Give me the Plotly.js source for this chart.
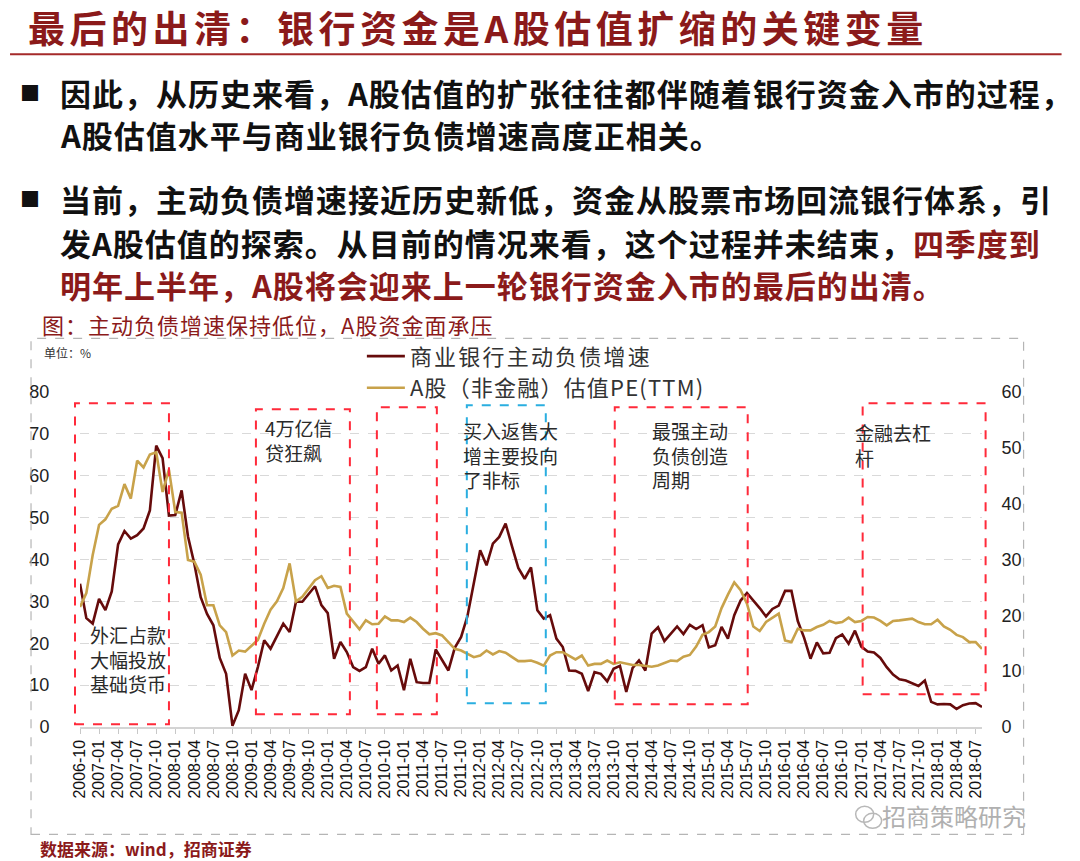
<!DOCTYPE html>
<html>
<head>
<meta charset="utf-8">
<script src="https://cdn.plot.ly/plotly-3.0.1.min.js"></script>
<style>html,body{margin:0;padding:0;background:#fff;}#chart{width:1080px;height:861px;}</style>
</head>
<body>
<div id="chart"></div>
<script>
// ---- DATA ----
const startYear = 2006, startMonth = 10, monthCount = 143;
const months = [];
for (let i = 0; i < monthCount; i++) {
  const k = startMonth - 1 + i;
  months.push((startYear + Math.floor(k / 12)) + '-' + String(k % 12 + 1).padStart(2, '0'));
}
const tickLabels = months.filter((_, i) => i % 3 === 0);

const seriesNames = ['商业银行主动负债增速', 'A股（非金融）估值PE(TTM)'];

// 商业银行主动负债增速 (%), left axis
const liabGrowth = [34.2,26,24.7,30.6,27.9,32.4,43.6,46.8,45,45.8,
  47.4,51.7,67.2,64.2,50.5,50.6,56.5,45.5,39,31,
  27,24.3,16.5,12.7,0.3,4,12.7,8.8,14.3,20.7,
  18.7,21.9,24.7,22.7,29.9,29.9,31.8,33.6,29.1,27.2,
  16.3,20.3,17.9,14.3,13.4,14.3,18.7,15.1,17.1,13.5,
  14.7,8.8,16.3,10.7,10.5,10.5,18.5,15.9,13.5,18.9,
  21.5,26.5,34.2,42.2,38.6,43.8,45.4,48.6,43.2,38,
  35.4,38.1,27.9,25.9,26.7,21.1,19.1,13.5,13.4,12.7,
  8.6,13.1,12.7,10.9,13.9,14.6,8.4,14.1,15.9,13.5,
  22.3,23.8,20.5,22.3,24,22.2,24.4,23.4,24.3,19,
  19.5,23.9,21.1,26.7,30.2,32,30.3,28.4,26.4,28.2,
  29,32.5,32.5,25.3,21.3,16.3,20.2,17.6,17.7,21.2,
  22.1,19.9,23,19.2,18,17.8,16.5,14.3,12.5,11.4,
  11.1,10.5,9.8,11.1,6,5.4,5.5,5.4,4.3,5.2,
  5.6,5.7,4.8];

// A股（非金融）估值PE(TTM), right axis
const peTTM = [21.5,24,30.8,36.2,37.2,39.1,39.6,43.5,40.9,47.7,
  46.5,48.8,49.2,42.1,46.1,38.5,38.4,29.9,29.6,27.3,
  21.8,21.8,18.2,17,12.8,13.7,13.5,14.6,15.6,18.5,
  21,22.5,24.9,29.3,22.5,23.3,24.8,26.3,27,24.9,
  25.3,25.1,20.3,19,17.5,19.1,18.4,18.5,19.8,19.1,
  19.1,18.8,19.6,18.8,17.6,16.6,16.8,16.4,15.1,14,
  13.7,13.1,12.5,12.8,13.7,13,13.6,13.3,12.6,11.8,
  11.8,11.9,11.5,11,12.8,13.4,13.4,12.7,12.1,12.8,
  11,11.3,11.3,11.9,11.3,11.6,11.3,11.1,11.1,11,
  10.8,11,11.4,11.9,11.8,12.6,12.9,14.4,16.5,17,
  18,21.3,23.7,25.9,24.5,22.1,18,17.2,18.8,19.5,
  20.3,15.5,15.2,17.6,17.3,17.3,17.9,18.3,19,18.6,
  18.8,19.6,18.8,19,19.7,19.6,19,18.2,19,19.1,
  19.2,19.4,18.8,18.4,18.4,19.2,18,17.4,16.5,16.1,
  15.2,15.2,14];

const leftTicks = [0,10,20,30,40,50,60,70,80];
const rightTicks = [0,10,20,30,40,50,60];

// ---- LAYOUT HELPERS ----
const W = 1080, H = 861;
const M = {l: 80, r: 97.6, t: 391.7, b: 134.3};
const PW = W - M.l - M.r, PH = H - M.t - M.b;
const px = x => (x - M.l) / PW;
const py = y => (H - M.b - y) / PH;

const CJK = '"Noto Sans CJK SC", "Liberation Sans", sans-serif';
const LAT = '"Liberation Sans", Arial, sans-serif';
const DARKRED = '#8b1a1a';
const sp = (t, ls) => '<span style="letter-spacing:' + ls + 'px">' + t + '</span>';

const ann = [];
function txt(x, y, text, size, color, extra) {
  ann.push(Object.assign({xref: 'paper', yref: 'paper', x: px(x), y: py(y), text: text,
    showarrow: false, xanchor: 'left', yanchor: 'middle', align: 'left',
    font: {family: CJK, size: size, color: color}}, extra || {}));
}
// slide title & text
txt(26, 27, '<b>' + sp('最后的出清：银行资金是A股估值扩缩的关键变量', 4.5) + '</b>', 37, DARKRED);
txt(18, 92, '■', 20, '#111');
txt(58, 92, '<b>' + sp('因此，从历史来看，A股估值的扩张往往都伴随着银行资金入市的过程，', 1) + '</b>', 31, '#111');
txt(58, 134, '<b>' + sp('A股估值水平与商业银行负债增速高度正相关。', 1) + '</b>', 31, '#111');
txt(18, 198, '■', 20, '#111');
txt(58, 198, '<b>' + sp('当前，主动负债增速接近历史新低，资金从股票市场回流银行体系，引', 1) + '</b>', 31, '#111');
txt(58, 242, '<b>' + sp('发A股估值的探索。从目前的情况来看，这个过程并未结束，', 1) +
  '<span style="color:' + DARKRED + ';letter-spacing:1px">四季度到</span></b>', 31, '#111');
txt(58, 284, '<b>' + sp('明年上半年，A股将会迎来上一轮银行资金入市的最后的出清。', 1) + '</b>', 31, DARKRED);
txt(40, 324, sp('图：主动负债增速保持低位，A股资金面承压', 1), 22, DARKRED);
txt(42, 352, '单位：%', 12, '#333');
txt(38, 848, '<b>数据来源：wind，招商证券</b>', 17, DARKRED);
txt(880, 815, '招商策略研究', 24, '#b0b0b0');

// box annotations (multi-line)
const noteColor = '#2a2a2a';
const notes = [
  [88, 659, ['外汇占款', '大幅投放', '基础货币']],
  [263, 440, ['4万亿信', '贷狂飙']],
  [461, 455, ['买入返售大', '增主要投向', '了非标']],
  [650, 455, ['最强主动', '负债创造', '周期']],
  [853, 445, ['金融去杠', '杆']]
];
notes.forEach(n => txt(n[0], n[1], n[2].join('<br>'), 19, noteColor));

// shapes
const shapes = [];
function rect(x0, y0, x1, y1, color, width, dash) {
  shapes.push({type: 'rect', xref: 'paper', yref: 'paper', x0: px(x0), x1: px(x1), y0: py(y1), y1: py(y0),
    line: {color: color, width: width, dash: dash}, fillcolor: 'rgba(0,0,0,0)'});
}
shapes.push({type: 'line', xref: 'paper', yref: 'paper', x0: px(10), x1: px(1062), y0: py(54), y1: py(54),
  line: {color: '#a52a2a', width: 2}});
rect(31, 338, 1024, 834, '#b5b5b5', 1.2, 'dash');
const RED = '#ff2a3a';
rect(75, 403, 169, 724, RED, 2, 'dash');
rect(256, 409, 350, 714, RED, 2, 'dash');
rect(377, 407, 437, 714, RED, 2, 'dash');
rect(467, 405, 546, 703, '#2aaee0', 2, 'dash');
rect(615, 407, 748, 704, RED, 2, 'dash');
rect(863, 403, 986, 694, RED, 2, 'dash');
// wechat-like icon
shapes.push({type: 'circle', xref: 'paper', yref: 'paper', x0: px(856), x1: px(874), y0: py(822), y1: py(806), line: {color: '#b8b8b8', width: 1.5}});
shapes.push({type: 'circle', xref: 'paper', yref: 'paper', x0: px(864), x1: px(882), y0: py(828), y1: py(813), line: {color: '#b8b8b8', width: 1.5}});

const traces = [
  {x: months, y: liabGrowth, name: sp(seriesNames[0], 2.2), type: 'scatter', mode: 'lines', yaxis: 'y',
   line: {color: '#660b0b', width: 2.6}, legendgroup: 'a'},
  {x: months, y: peTTM, name: sp(seriesNames[1], 1.2), type: 'scatter', mode: 'lines', yaxis: 'y2',
   line: {color: '#c8a24a', width: 2.6}, legendgroup: 'b'}
];

const layout = {
  width: W, height: H, margin: M, paper_bgcolor: '#fff', plot_bgcolor: '#fff',
  showlegend: true,
  legend: {x: px(362), y: py(335), xanchor: 'left', yanchor: 'top', bgcolor: 'rgba(0,0,0,0)',
    font: {family: CJK, size: 22, color: '#333'}, tracegroupgap: 0, itemwidth: 38},
  xaxis: {type: 'category', range: [0, monthCount - 1], tickmode: 'array', tickvals: tickLabels, ticktext: tickLabels,
    tickangle: -90, tickfont: {family: LAT, size: 16, color: '#111'}, showgrid: false,
    showline: true, linecolor: '#d4d4d4', linewidth: 1.5, ticks: 'outside', ticklen: 5, tickcolor: '#c8c8c8', zeroline: false},
  yaxis: {range: [0, 80], tickmode: 'array', tickvals: leftTicks, showgrid: true, gridcolor: '#d9d9d9', griddash: 'dash',
    gridwidth: 1, zeroline: false, showline: false, ticks: 'outside', ticklen: 26, tickcolor: 'rgba(0,0,0,0)',
    tickfont: {family: LAT, size: 18, color: '#222'}},
  yaxis2: {range: [0, 60], tickmode: 'array', tickvals: rightTicks, overlaying: 'y', side: 'right', showgrid: false,
    zeroline: false, showline: false, ticks: 'outside', ticklen: 15, tickcolor: 'rgba(0,0,0,0)',
    tickfont: {family: LAT, size: 18, color: '#222'}},
  annotations: ann, shapes: shapes
};

Plotly.newPlot('chart', traces, layout, {displayModeBar: false, staticPlot: true});
</script>
</body>
</html>
